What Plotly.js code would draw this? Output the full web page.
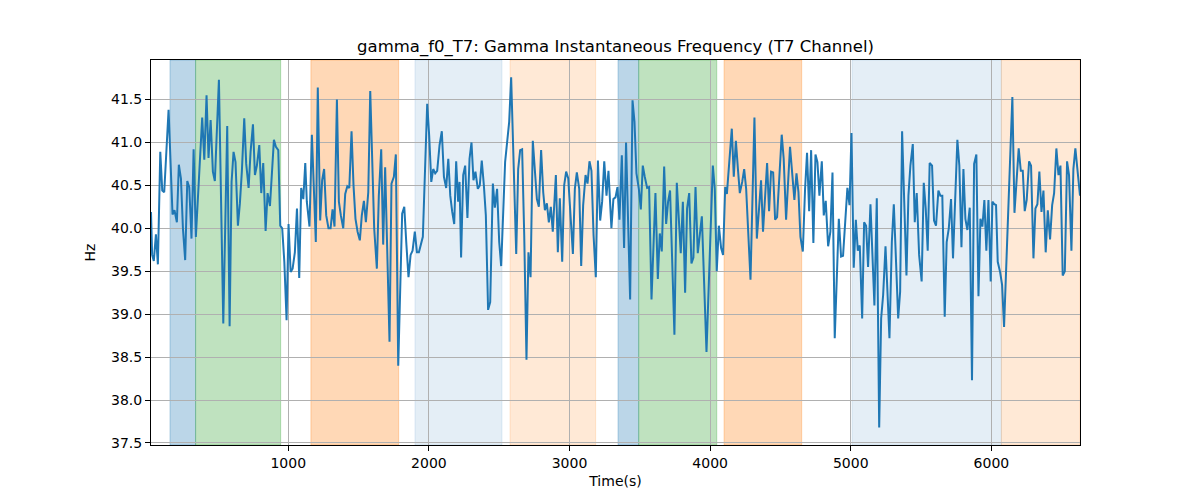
<!DOCTYPE html>
<html>
<head>
<meta charset="utf-8">
<script src="https://cdn.plot.ly/plotly-3.0.1.min.js"></script>
<style>html,body{margin:0;padding:0;background:#fff;}#chart{width:1200px;height:500px;}</style>
</head>
<body>
<div id="chart"></div>
<script>
// Time stamps (s)
const timeSec = [
 24,32,44,59,73,90,104,118,149,177,191,208,222,237,251,267,282,296,312,327,343,357,372,388,403,419,433,448,464,478,507,538,566,583,597,611,625,642,656,670,687,701,718,732,749,763,777,794,808,822,839,853,870,884,898,912,929,943,957,972,988,1002,1017,1031,1047,1062,1078,1092,1107,1121,
 1132,1151,1168,1196,1210,1227,1241,1255,1270,1286,1301,1315,1329,1346,1360,1374,1391,1405,1420,1434,1450,1464,1478,1493,1509,1523,1538,1552,1569,1583,1611,1630,1644,1661,1675,1689,1720,1734,1751,1765,1782,1810,1825,1839,1855,1870,1884,1900,1915,1929,1943,1957,1988,2002,2017,2031,2045,2059,2076,2092,2107,2123,2138,2152,2166,2180,2194,2208,2218,
 2229,2244,2258,2274,2289,2303,2317,2331,2348,2362,2376,2391,2405,2421,2436,2455,2469,2485,2500,2514,2528,2542,2571,2585,2621,2635,2649,2663,2678,2694,2708,2723,2739,2753,2768,2782,2798,2813,2825,2839,2853,2867,2881,2903,2917,2931,2948,2962,2976,2991,3009,3024,3038,3052,3069,3083,3097,3114,3128,3142,3156,3171,3187,3202,3218,3232,3247,3263,3277,
 3298,3312,3327,3341,3355,3372,3388,3402,3431,3448,3462,3476,3493,3507,3521,3535,3552,3566,3583,3611,3628,3642,3656,3673,3687,3701,3715,3746,3763,3791,3806,3822,3836,3851,3867,3881,3896,3912,3941,3974,4019,4033,4047,4062,4078,4092,4107,4119,4135,4154,4168,4183,4197,4211,4228,4242,4256,4273,4287,4315,4332,4346,
 4362,4376,4391,4405,4419,4433,4448,4462,4476,4493,4509,4523,4540,4568,4583,4599,4614,4628,4642,4659,4675,4689,4704,4718,4734,4749,4763,4777,4794,4808,4822,4839,4855,4870,4886,4915,4931,4945,4976,4991,5005,5021,5036,5050,5064,5081,5095,5109,5123,5140,5154,5168,5185,5202,5216,5230,5247,5261,5275,5292,5306,5320,5337,5351,5365,5396,5410,5424,5441,5455,5469,5486,
 5504,5519,5533,5547,5561,5578,5592,5606,5623,5637,5651,5668,5682,5697,5713,5727,5758,5772,5787,5801,5815,5829,5846,5862,5877,5893,5908,5922,5936,5950,5964,5979,5995,6007,6021,6033,6045,6062,6076,6090,6121,6135,6149,6164,6178,6194,6209,6223,6237,6251,6268,6282,6299,6313,6327,6341,6356,6370,6386,6401,6417,6432,6446,6462,6477,6491,6507,6522,6538,6552,6569,6583,6597,6614,6630
];
// Gamma instantaneous frequency (Hz)
const gammaHz = [
 40.19,39.69,39.62,39.93,39.58,40.89,40.44,40.42,41.38,40.16,40.21,40.07,40.74,40.58,40.0,39.63,40.55,40.48,39.88,40.92,39.90,40.31,40.89,41.29,40.80,41.55,40.82,41.26,40.66,40.55,41.73,38.89,41.19,38.86,40.54,40.89,40.77,40.03,40.29,40.66,41.28,40.75,40.47,40.89,41.21,40.62,40.73,40.97,40.41,40.76,39.97,40.41,40.26,40.62,41.03,40.95,40.91,40.03,40.0,39.61,38.93,40.05,39.49,39.53,39.72,40.23,39.42,40.47,40.34,40.76,
 40.31,40.02,41.09,39.84,41.64,40.09,40.56,40.69,40.15,40.0,40.0,40.22,40.02,41.5,40.31,40.15,40.0,40.40,40.49,40.47,41.13,40.50,40.11,39.96,39.86,40.15,40.32,40.07,40.42,41.60,40.0,39.53,40.38,40.92,39.81,40.71,38.68,40.52,40.60,40.86,38.40,40.17,40.25,39.84,39.43,39.69,39.74,39.96,39.72,39.72,39.81,39.90,41.45,41.08,40.54,40.69,40.64,40.67,40.97,41.13,40.60,40.47,40.81,40.38,40.19,40.05,40.78,40.31,40.54,
 39.66,40.62,40.73,40.12,40.81,41.0,40.56,40.66,40.46,40.50,40.79,40.50,40.15,39.05,39.14,40.52,40.24,40.46,39.84,39.56,40.27,40.77,41.24,41.76,39.70,40.69,40.91,40.92,39.92,38.47,39.72,39.43,41.02,40.66,40.34,40.25,40.91,40.42,40.21,40.29,40.07,40.25,39.96,40.62,39.72,40.35,39.61,40.50,40.66,40.58,40.02,39.70,40.46,40.65,40.46,39.56,40.27,40.62,40.52,40.78,40.67,39.92,39.43,40.79,40.09,40.31,40.78,40.38,40.67,
 40.0,40.34,40.36,40.48,40.10,40.85,39.77,41.0,39.17,41.49,41.24,40.64,40.46,40.22,40.73,40.60,40.47,40.48,39.17,40.41,39.41,39.94,39.73,40.72,40.05,40.31,40.44,38.76,40.53,39.71,40.31,39.25,40.23,40.41,39.59,39.66,40.48,39.71,40.14,38.56,40.73,40.46,39.50,40.03,39.77,39.69,40.48,40.40,40.73,41.16,40.60,41.02,40.70,40.41,40.54,40.69,40.46,39.88,39.40,41.29,39.88,40.19,
 40.56,39.96,40.38,40.76,40.20,40.66,40.65,40.10,40.13,40.58,41.09,40.81,40.10,40.95,40.67,40.33,40.64,40.42,39.90,39.73,40.46,40.88,40.20,40.91,39.83,40.86,40.77,40.38,40.78,40.15,40.32,39.79,39.96,40.65,38.72,40.11,39.67,39.68,40.47,40.27,41.11,39.54,40.10,39.74,39.80,38.95,40.07,40.03,39.55,40.28,39.69,39.10,40.35,37.68,38.95,39.22,39.79,39.30,38.72,39.84,40.28,39.69,38.95,39.26,41.13,39.45,40.38,40.73,40.98,40.07,40.41,39.69,
 39.38,40.53,40.23,39.74,40.76,40.73,40.09,40.03,40.44,40.38,40.38,38.97,39.84,40.0,40.34,39.65,41.03,40.73,39.78,40.69,40.11,39.98,40.24,38.23,40.75,40.86,39.21,40.11,40.02,40.33,39.74,40.33,39.38,40.31,40.28,40.27,39.61,39.49,39.34,38.85,40.31,40.73,41.53,40.18,40.59,40.93,40.67,40.67,40.20,40.33,40.78,40.73,39.65,40.23,40.28,40.66,40.19,40.44,39.72,40.21,39.87,40.27,40.41,40.93,40.62,40.73,39.45,39.50,40.78,40.62,39.74,40.69,40.93,40.67,40.38
];
// Shaded intervals
const spanStart = [159, 341, 1161, 1901, 2577, 3345, 3492, 4099, 5009, 6071];
const spanEnd   = [341, 946, 1785, 2520, 3186, 3492, 4047, 4651, 6071, 6630];
const spanKind  = ["blue", "green", "orange", "lightblue", "lightorange", "blue", "green", "orange", "lightblue", "lightorange"];
// Tick values
const xTicks = [1000, 2000, 3000, 4000, 5000, 6000];
const yTicks = [37.5, 38.0, 38.5, 39.0, 39.5, 40.0, 40.5, 41.0, 41.5];

const kindColor = {
  blue: "rgba(31,119,180,0.3)",
  green: "rgba(44,160,44,0.3)",
  orange: "rgba(255,127,14,0.3)",
  lightblue: "rgba(31,119,180,0.12)",
  lightorange: "rgba(255,127,14,0.17)"
};

const shapes = spanStart.map((s, i) => ({
  type: "rect", xref: "x", yref: "paper", x0: s, x1: spanEnd[i], y0: 0, y1: 1,
  fillcolor: kindColor[spanKind[i]], line: {width: 1, color: kindColor[spanKind[i]]}, layer: "below"
}));

const font = "DejaVu Sans, sans-serif";
const trace = {
  x: timeSec, y: gammaHz, type: "scatter", mode: "lines",
  line: {color: "#1f77b4", width: 2}, hoverinfo: "skip"
};

const layout = {
  width: 1200, height: 500,
  margin: {l: 151, r: 120, t: 60, b: 55},
  paper_bgcolor: "#fff", plot_bgcolor: "#fff",
  showlegend: false,
  font: {family: font, size: 14, color: "#000"},
  title: {text: "gamma_f0_T7: Gamma Instantaneous Frequency (T7 Channel)",
          font: {family: font, size: 16.5, color: "#000"},
          x: 0.5, xref: "paper", xanchor: "center", y: 0.908, yref: "container", yanchor: "middle"},
  xaxis: {
    range: [24, 6630], tickmode: "array", tickvals: xTicks, ticktext: xTicks.map(String),
    showgrid: true, gridcolor: "#b0b0b0", gridwidth: 1, zeroline: false,
    showline: true, mirror: true, linecolor: "#000", linewidth: 1,
    ticks: "outside", ticklen: 5, tickcolor: "#000", tickfont: {family: font, size: 14},
    title: {text: "Time(s)", font: {family: font, size: 14}, standoff: 6}
  },
  yaxis: {
    range: [37.476, 41.96], tickmode: "array", tickvals: yTicks, ticktext: yTicks.map(v => v.toFixed(1)),
    showgrid: true, gridcolor: "#b0b0b0", gridwidth: 1, zeroline: false,
    showline: true, mirror: true, linecolor: "#000", linewidth: 1,
    ticks: "outside", ticklen: 5, tickcolor: "#000", tickfont: {family: font, size: 14},
    title: {text: "Hz", font: {family: font, size: 14}, standoff: 12}
  },
  shapes: shapes
};

Plotly.newPlot("chart", [trace], layout, {staticPlot: true, displayModeBar: false});
</script>
</body>
</html>
